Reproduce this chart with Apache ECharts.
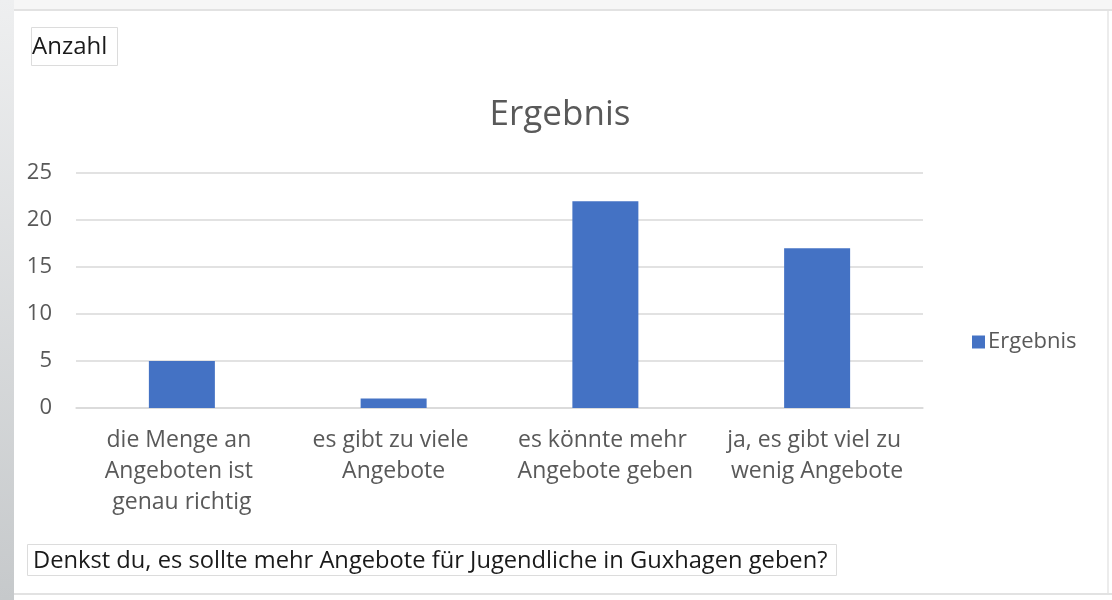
<!DOCTYPE html>
<html>
<head>
<meta charset="utf-8">
<script src="https://cdn.jsdelivr.net/npm/echarts@6/dist/echarts.min.js"></script>
<style>
  html, body { margin: 0; padding: 0; background: #ffffff; }
  #chart { width: 1112px; height: 600px; }
</style>
</head>
<body>
<div id="chart"></div>
<script>
// Kategorien (x-Achse)
const categories = [
  'die Menge an Angeboten ist genau richtig',
  'es gibt zu viele Angebote',
  'es könnte mehr Angebote geben',
  'ja, es gibt viel zu wenig Angebote'
]
// Werte der Reihe "Ergebnis"
const ergebnis = [5, 1, 22, 17]
const seriesName = 'Ergebnis'
const yAxisTitle = 'Anzahl'
const xAxisTitle = 'Denkst du, es sollte mehr Angebote für Jugendliche in Guxhagen geben?'

const font = '"Open Sans", "Noto Sans", sans-serif'
const grey = '#595959'

const myChart = echarts.init(document.getElementById('chart'))

myChart.setOption({
  animation: false,
  backgroundColor: '#ffffff',
  graphic: [
    // linker grauer Rand
    {
      type: 'rect', shape: {x: 0, y: 0, width: 14, height: 600}, silent: true,
      style: {
        fill: new echarts.graphic.LinearGradient(0, 0, 0, 1, [
          {offset: 0, color: '#eeeff0'},
          {offset: 1, color: '#c6c9cb'}
        ])
      }
    },
    // oberer Streifen
    {type: 'rect', shape: {x: 14, y: 0, width: 1098, height: 9}, silent: true, style: {fill: '#f6f6f6'}},
    {type: 'rect', shape: {x: 14, y: 9, width: 1098, height: 2}, silent: true, style: {fill: '#e2e2e2'}},
    // untere Linie
    {type: 'rect', shape: {x: 14, y: 593, width: 1098, height: 2}, silent: true, style: {fill: '#e2e2e2'}},
    // rechte Linie
    {type: 'rect', shape: {x: 1107, y: 11, width: 2, height: 582}, silent: true, style: {fill: '#ececec'}}
  ],
  title: [
    {
      text: seriesName,
      left: 555, top: 93, textAlign: 'center',
      textStyle: {fontFamily: font, fontSize: 35, fontWeight: 'normal', color: grey}
    },
    {
      text: yAxisTitle,
      left: 31, top: 27,
      padding: [8, 10, 7, 1],
      borderColor: '#dcdcdc', borderWidth: 1,
      textStyle: {fontFamily: font, fontSize: 24, fontWeight: 'normal', color: '#1a1a1a'}
    },
    {
      text: xAxisTitle,
      left: 27, top: 544,
      padding: [5, 9, 3, 6],
      borderColor: '#dcdcdc', borderWidth: 1,
      textStyle: {fontFamily: font, fontSize: 23.7, fontWeight: 'normal', color: '#1a1a1a'}
    }
  ],
  legend: {
    orient: 'vertical',
    left: 967, top: 326,
    itemWidth: 13, itemHeight: 13, itemGap: 6,
    icon: 'rect',
    data: [seriesName],
    textStyle: {fontFamily: font, fontSize: 22, color: grey, padding: [0, 0, 0, -2]}
  },
  grid: {
    left: 76, right: 189, top: 173, bottom: 192,
    containLabel: false
  },
  xAxis: {
    type: 'category',
    data: categories,
    axisLine: {show: true, lineStyle: {color: '#d9d9d9', width: 1.5}},
    axisTick: {show: false},
    axisLabel: {
      interval: 0,
      margin: 17,
      width: 200,
      overflow: 'break',
      lineHeight: 31,
      align: 'center',
      fontFamily: font, fontSize: 23, color: grey
    }
  },
  yAxis: {
    type: 'value',
    min: 0, max: 25, interval: 5,
    axisLine: {show: false},
    axisTick: {show: false},
    splitLine: {lineStyle: {color: '#d9d9d9', width: 1.5}},
    axisLabel: {margin: 24, fontFamily: font, fontSize: 22, color: grey}
  },
  series: [
    {
      name: seriesName,
      type: 'bar',
      barWidth: 66,
      itemStyle: {color: '#4472c4'},
      data: ergebnis
    }
  ]
})

//自适应大小
window.onresize = function () {
  myChart.resize()
}
</script>
</body>
</html>
